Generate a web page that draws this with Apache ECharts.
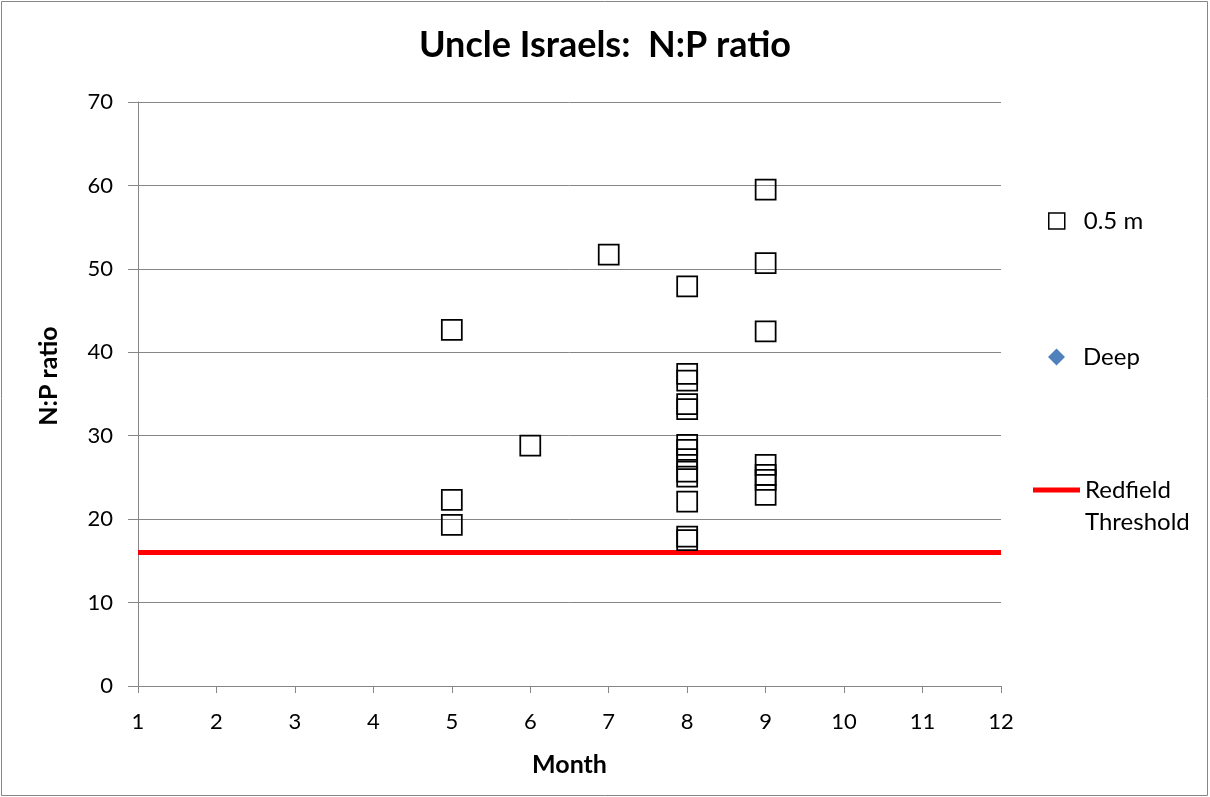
<!DOCTYPE html>
<html><head><meta charset="utf-8">
<script src="https://cdn.jsdelivr.net/npm/echarts@6/dist/echarts.min.js"></script>
<style>html,body{margin:0;padding:0;background:#fff}#c{width:1210px;height:797px}</style>
</head><body><div id="c"></div>
<script>
const titleText = 'Uncle Israels:  N:P ratio';
const xTicks = [1,2,3,4,5,6,7,8,9,10,11,12];
const yTicks = [0,10,20,30,40,50,60,70];
const shallowMonths = [5,5,5,6,7,8,8,8,8,8,8,8,8,8,8,8,8,8,9,9,9,9,9,9,9];
const shallowRatios = [42.7,22.3,19.3,28.8,51.7,47.9,37.4,36.6,33.8,33.2,28.9,28.3,27.2,25.7,25.1,22.1,17.9,17.5,
  59.5,50.7,42.5,26.5,25.3,24.7,22.9];
const deepMonths = [];
const deepRatios = [];
const redfieldX = [1,12];
const redfieldY = [16,16];

const shallowData = shallowMonths.map((m,i)=>[m, shallowRatios[i]]);
const deepData = deepMonths.map((m,i)=>[m, deepRatios[i]]);
const redData = redfieldX.map((x,i)=>[x, redfieldY[i]]);

const FONT = 'Lato';
const gray = '#868686';
const chart = echarts.init(document.getElementById('c'));
chart.setOption({
  animation:false,
  backgroundColor:'#fff',
  textStyle:{fontFamily:FONT},
  title:{text:titleText,left:'center',top:22,textStyle:{fontFamily:FONT,fontSize:36,fontWeight:'bold',color:'#000'}},
  graphic:[{type:'rect',shape:{x:1.5,y:1.5,width:1206,height:794},style:{fill:null,stroke:gray,lineWidth:1},silent:true}],
  grid:{left:138,right:209,top:102,bottom:111},
  xAxis:{type:'value',min:xTicks[0],max:xTicks[xTicks.length-1],interval:1,
    name:'Month',nameLocation:'middle',nameGap:66,
    nameTextStyle:{fontFamily:FONT,fontSize:25,fontWeight:'bold',color:'#000'},
    axisLine:{show:true,lineStyle:{color:gray,width:1}},
    axisTick:{show:true,length:7,lineStyle:{color:gray}},
    axisLabel:{fontFamily:FONT,fontSize:22,color:'#000',margin:25},
    splitLine:{show:false}},
  yAxis:{type:'value',min:yTicks[0],max:yTicks[yTicks.length-1],interval:10,
    name:'N:P ratio',nameLocation:'middle',nameGap:77,
    nameTextStyle:{fontFamily:FONT,fontSize:25,fontWeight:'bold',color:'#000',padding:[0,0,0,36]},
    axisLine:{show:true,lineStyle:{color:gray,width:1}},
    axisTick:{show:true,length:10,lineStyle:{color:gray}},
    axisLabel:{fontFamily:FONT,fontSize:22,color:'#000',margin:25},
    splitLine:{show:true,lineStyle:{color:gray,width:1}}},
  legend:[
    {data:[{name:'0.5 m',icon:'rect',itemStyle:{color:'#fff',borderColor:'#000',borderWidth:1.5,opacity:1}}],
     left:1048,top:209,itemWidth:16,itemHeight:16,padding:0,
     textStyle:{fontFamily:FONT,fontSize:24,color:'#000',padding:[0,0,0,14]}},
    {data:[{name:'Deep',icon:'diamond',itemStyle:{color:'#4f81bd',opacity:1}}],
     left:1048,top:345,itemWidth:17,itemHeight:17,padding:0,
     textStyle:{fontFamily:FONT,fontSize:24,color:'#000',padding:[0,0,0,13]}},
    {data:[{name:'Redfield Threshold',icon:'rect',itemStyle:{color:'#ff0000',opacity:1}}],
     formatter:()=> ' \nRedfield\nThreshold',
     left:1033,top:442,itemWidth:47,itemHeight:5,padding:0,
     textStyle:{fontFamily:FONT,fontSize:24,color:'#000',lineHeight:32}}
  ],
  series:[
    {name:'Redfield Threshold',type:'line',data:redData,symbol:'none',
     lineStyle:{color:'#ff0000',width:5},itemStyle:{color:'#ff0000'},z:1},
    {name:'0.5 m',type:'scatter',data:shallowData,symbol:'rect',symbolSize:20,
     itemStyle:{color:'rgba(0,0,0,0)',borderColor:'#000',borderWidth:1.75,opacity:1},z:3},
    {name:'Deep',type:'scatter',data:deepData,symbol:'diamond',symbolSize:17,
     itemStyle:{color:'#4f81bd',opacity:1},z:3}
  ]
});
</script></body></html>
